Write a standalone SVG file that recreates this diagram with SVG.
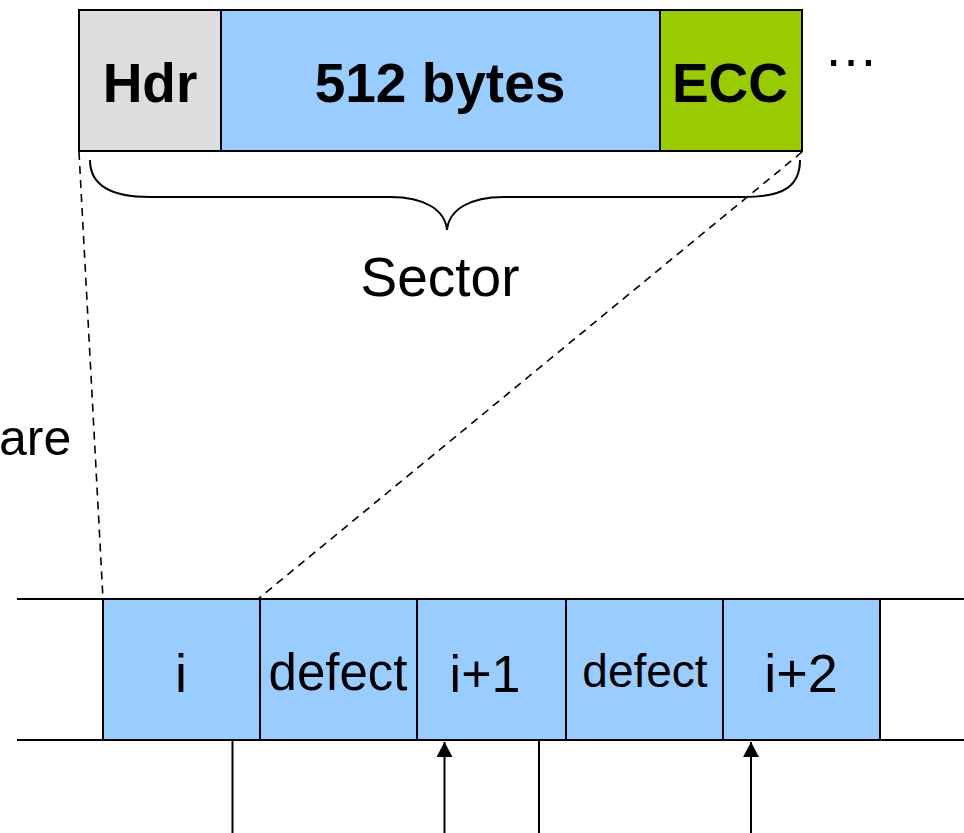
<svg xmlns="http://www.w3.org/2000/svg" width="964" height="833" viewBox="0 0 964 833">
<defs>
<style>
.box{stroke:#000;stroke-width:2}
.b{font-family:"Liberation Sans",Arial,sans-serif;font-weight:bold;font-size:55px;text-anchor:middle;fill:#000}
.t{font-family:"Liberation Sans",Arial,sans-serif;text-anchor:middle;fill:#000}
.ln{stroke:#000;stroke-width:2;fill:none}
.dash{stroke:#000;stroke-width:1.6;stroke-dasharray:8,6;fill:none}
</style>
<marker id="ah" markerWidth="16" markerHeight="16" viewBox="0 0 16 16" refX="15" refY="8" orient="auto" markerUnits="userSpaceOnUse">
<path d="M0,0 L15,8 L0,16 Z" fill="#000"/>
</marker>
</defs>
<rect width="964" height="833" fill="#fff"/>
<g id="hdr"><rect class="box" x="79" y="10" width="142" height="141" fill="#dddddd"/><text class="b" x="150" y="102">Hdr</text></g>
<g id="data"><rect class="box" x="221" y="10" width="439" height="141" fill="#99ccff"/><text class="b" x="440" y="102">512 bytes</text></g>
<g id="ecc"><rect class="box" x="660" y="10" width="142" height="141" fill="#99cc00"/><text class="b" x="730" y="102">ECC</text></g>
<text class="t" x="851" y="66" font-size="55">…</text>
<g id="brace"><path class="ln" d="M90,160 C90,185 110,197 150,197 L390,197 C425,197 445,210 447,230 C449,210 469,197 504,197 L745,197 C785,197 800,185 800,160"/>
<text class="t" x="440" y="296" font-size="55">Sector</text></g>
<text class="t" x="-1" y="455" font-size="50" style="text-anchor:start">are</text>
<g id="track">
<line class="ln" x1="17" y1="599" x2="964" y2="599"/>
<line class="ln" x1="17" y1="740" x2="964" y2="740"/>
</g>
<g id="s-i"><rect class="box" x="103" y="599" width="157" height="141" fill="#99ccff"/><text class="t" x="181" y="692" font-size="54">i</text></g>
<g id="s-d1"><rect class="box" x="260" y="599" width="157" height="141" fill="#99ccff"/><text class="t" x="338" y="690" font-size="51">defect</text></g>
<g id="s-i1"><rect class="box" x="417" y="599" width="149" height="141" fill="#99ccff"/><text class="t" x="485" y="692" font-size="52">i+1</text></g>
<g id="s-d2"><rect class="box" x="566" y="599" width="157" height="141" fill="#99ccff"/><text class="t" x="645" y="687" font-size="46">defect</text></g>
<g id="s-i2"><rect class="box" x="723" y="599" width="157" height="141" fill="#99ccff"/><text class="t" x="801" y="692" font-size="54">i+2</text></g>
<g id="connectors">
<line class="dash" x1="79" y1="152" x2="103" y2="599"/>
<line class="dash" x1="802" y1="152" x2="258" y2="599"/>
<line class="ln" x1="232.5" y1="741" x2="232.5" y2="833"/>
<line class="ln" x1="444.5" y1="833" x2="444.5" y2="742" marker-end="url(#ah)"/>
<line class="ln" x1="539" y1="741" x2="539" y2="833"/>
<line class="ln" x1="751" y1="833" x2="751" y2="742" marker-end="url(#ah)"/>
</g>
</svg>
